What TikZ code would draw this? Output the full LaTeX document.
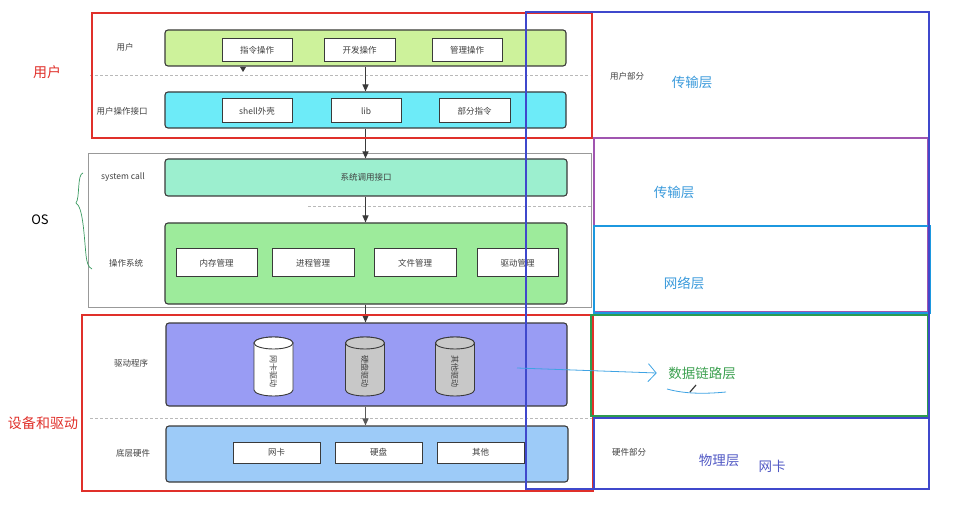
\documentclass[tikz,border=0pt]{standalone}
\usepackage{fontspec}
\setmainfont{Noto Sans CJK SC}
\usetikzlibrary{arrows.meta}
\definecolor{linegray}{HTML}{3A3A3A}
\definecolor{txtgray}{HTML}{404040}
\definecolor{ugreen}{HTML}{CDF29B}
\definecolor{ucyan}{HTML}{6DEBF8}
\definecolor{umint}{HTML}{9CEFCF}
\definecolor{ugreen2}{HTML}{9DEB9B}
\definecolor{uviolet}{HTML}{999CF4}
\definecolor{ublue}{HTML}{9DCBF8}
\definecolor{cylgray}{HTML}{C8C8C8}
\definecolor{redbox}{HTML}{E0302A}
\definecolor{bluebox}{HTML}{3F48CC}
\definecolor{purplebox}{HTML}{A055B0}
\definecolor{cyanbox}{HTML}{1C98DF}
\definecolor{greenbox}{HTML}{2E9B4E}
\definecolor{laytxt}{HTML}{3A9ADB}
\definecolor{phytxt}{HTML}{5058C4}
\definecolor{dlltxt}{HTML}{3CA050}
\definecolor{hand}{HTML}{3FA3E3}
\definecolor{brace}{HTML}{3A9A60}
\newcommand\mycyl[4]{%
  \filldraw[draw=linegray, line width=0.9pt, fill=#3]
    ({#1-19.5},{#2-23.5}) -- ({#1-19.5},{#2+23.5})
    arc[start angle=180, end angle=0, x radius=19.5, y radius=6]
    -- ({#1+19.5},{#2-23.5})
    arc[start angle=0, end angle=-180, x radius=19.5, y radius=6] -- cycle;
  \draw[line width=0.9pt, draw=linegray, fill=#3] (#1,{#2-23.5}) ellipse[x radius=19.5, y radius=6];
}
\begin{document}
\begin{tikzpicture}[x=1pt,y=-1pt,
  lay/.style={draw=linegray, line width=1.1pt, rounded corners=3pt, inner sep=0pt},
  inbox/.style={draw=linegray, line width=1pt, fill=white, inner sep=0pt,
     font=\fontsize{8.5}{10}\selectfont, text=txtgray},
  lbl/.style={font=\fontsize{8.5}{10}\selectfont, text=txtgray},
  arr/.style={-{Triangle[length=7pt,width=6pt]}, line width=1.1pt, draw=linegray},
  sepline/.style={draw=gray!55, line width=0.7pt, dash pattern=on 3pt off 2pt},
  big/.style={font=\fontsize{14}{16}\selectfont},
  lay2/.style={font=\fontsize{13.5}{16}\selectfont},
  frame/.style={line width=2.2pt}]
\useasboundingbox (0,0) rectangle (968,526);

% OS gray frame
\draw[draw=gray!80, line width=0.8pt] (88,153) rectangle (591,307);

% dashed separators
\draw[sepline] (90,75) -- (590,75);
\draw[sepline] (308,206) -- (591,206);
\draw[sepline] (90,418) -- (592,418);

% user layer
\node[lay, fill=ugreen, minimum width=401pt, minimum height=36pt] (userbox) at (365.5,48) {};
\node[inbox, minimum width=70pt, minimum height=23pt] (c1) at (257,50.5) {指令操作};
\node[inbox, minimum width=71pt, minimum height=23pt] (c2) at (359.5,50.5) {开发操作};
\node[inbox, minimum width=70pt, minimum height=23pt] (c3) at (467,50.5) {管理操作};
\node[lbl] (l1) at (125,47) {用户};

\node[lay, fill=ucyan, minimum width=401pt, minimum height=36pt] (ifbox) at (365.5,110) {};
\node[inbox, minimum width=70pt, minimum height=24pt] (s1) at (257,111) {shell外壳};
\node[inbox, minimum width=70pt, minimum height=24pt] (s2) at (366,111) {lib};
\node[inbox, minimum width=71pt, minimum height=24pt] (s3) at (474.5,111) {部分指令};
\node[lbl] (l2) at (122,111) {用户操作接口};

% OS
\node[lay, fill=umint, minimum width=402pt, minimum height=37pt, lbl] (syscall) at (366,177.5) {系统调用接口};
\node[lbl] (l3) at (123,177) {system call};
\node[lay, fill=ugreen2, minimum width=402pt, minimum height=81pt] (osbox) at (366,263.5) {};
\node[inbox, minimum width=81pt, minimum height=28pt] (o1) at (216.5,263) {内存管理};
\node[inbox, minimum width=82pt, minimum height=28pt] (o2) at (313,263) {进程管理};
\node[inbox, minimum width=82pt, minimum height=28pt] (o3) at (415,263) {文件管理};
\node[inbox, minimum width=81pt, minimum height=28pt] (o4) at (517.5,263) {驱动管理};
\node[lbl] (l4) at (126,263) {操作系统};

% drivers
\node[lay, fill=uviolet, minimum width=401pt, minimum height=83pt] (driver) at (366.5,364.5) {};
\mycyl{273.5}{366.5}{white}{}
\mycyl{365}{366.5}{cylgray}{}
\mycyl{455}{366.5}{cylgray}{}
\node[lbl, rotate=-90, font=\fontsize{8}{9}\selectfont] (d1) at (273.5,371) {网卡驱动};
\node[lbl, rotate=-90, font=\fontsize{8}{9}\selectfont] (d2) at (365,371) {硬盘驱动};
\node[lbl, rotate=-90, font=\fontsize{8}{9}\selectfont] (d3) at (455,371) {其他驱动};
\node[lbl] (l5) at (131,363) {驱动程序};

\node[lay, fill=ublue, minimum width=402pt, minimum height=56pt] (hw) at (367,454) {};
\node[inbox, minimum width=87pt, minimum height=21pt] (h1) at (276.5,452.5) {网卡};
\node[inbox, minimum width=87pt, minimum height=21pt] (h2) at (378.5,452.5) {硬盘};
\node[inbox, minimum width=87pt, minimum height=21pt] (h3) at (480.5,452.5) {其他};
\node[lbl] (l6) at (133,453) {底层硬件};

% arrows
\draw[arr] (userbox.south) -- (ifbox.north);
\draw[arr] (ifbox.south) -- (ifbox.south |- syscall.north);
\draw[arr] (syscall.south -| ifbox.south) -- (ifbox.south |- osbox.north);
\draw[arr] (osbox.south -| ifbox.south) -- (ifbox.south |- driver.north);
\draw[arr, draw=gray!70!black] (driver.south -| ifbox.south) -- (ifbox.south |- hw.north);
\fill[linegray] (240,67) -- (246,67) -- (243,72) -- cycle;

% red frames
\draw[frame, draw=redbox] (92,13) rectangle (592,138);
\draw[frame, draw=redbox] (82,315) rectangle (593,491);

% left labels
\node[big, text=redbox] (tuser) at (47,72) {用户};
\node[font=\fontsize{13}{15}\selectfont, text=black] (tos) at (40,220) {OS};
\node[big, text=redbox] (tdev) at (43,423) {设备和驱动};
\draw[brace, line width=0.7pt] (83,173) .. controls (77,174) and (80,198) .. (76,203)
  .. controls (83,207) and (84,235) .. (86,255) .. controls (87,263) and (88,267) .. (92,269);

% right frames
\draw[frame, draw=purplebox] (594,138) rectangle (928,312);
\draw[frame, draw=cyanbox] (594,226) rectangle (930,313);
\draw[frame, draw=greenbox] (591,315) rectangle (928,416);
\draw[frame, draw=bluebox] (594,418) rectangle (929,489);
\draw[frame, draw=bluebox] (526,12) rectangle (929,489);

% right labels
\node[lbl] (up) at (627,76) {用户部分};
\node[lay2, text=laytxt] (t1) at (692,82) {传输层};
\node[lay2, text=laytxt] (t2) at (674,192) {传输层};
\node[lay2, text=laytxt] (t3) at (684,283) {网络层};
\node[lay2, text=dlltxt] (t4) at (702,373) {数据链路层};
\node[lbl] (hp) at (629,452) {硬件部分};
\node[lay2, text=phytxt] (t5) at (719,460) {物理层};
\node[lay2, text=phytxt] (t6) at (772,466) {网卡};

% hand-drawn annotation
\coordinate (hs) at (517,368);
\draw[hand, line width=0.8pt, -{Straight Barb[length=8pt,width=18pt]}] (hs) -- ([xshift=-8pt]t4.west);
\draw[hand, line width=0.8pt] (667,389) .. controls (685,394) and (705,394) .. (726,392);
\draw[linegray, line width=1.2pt] (690,392) -- (696,385);
\end{tikzpicture}
\end{document}
